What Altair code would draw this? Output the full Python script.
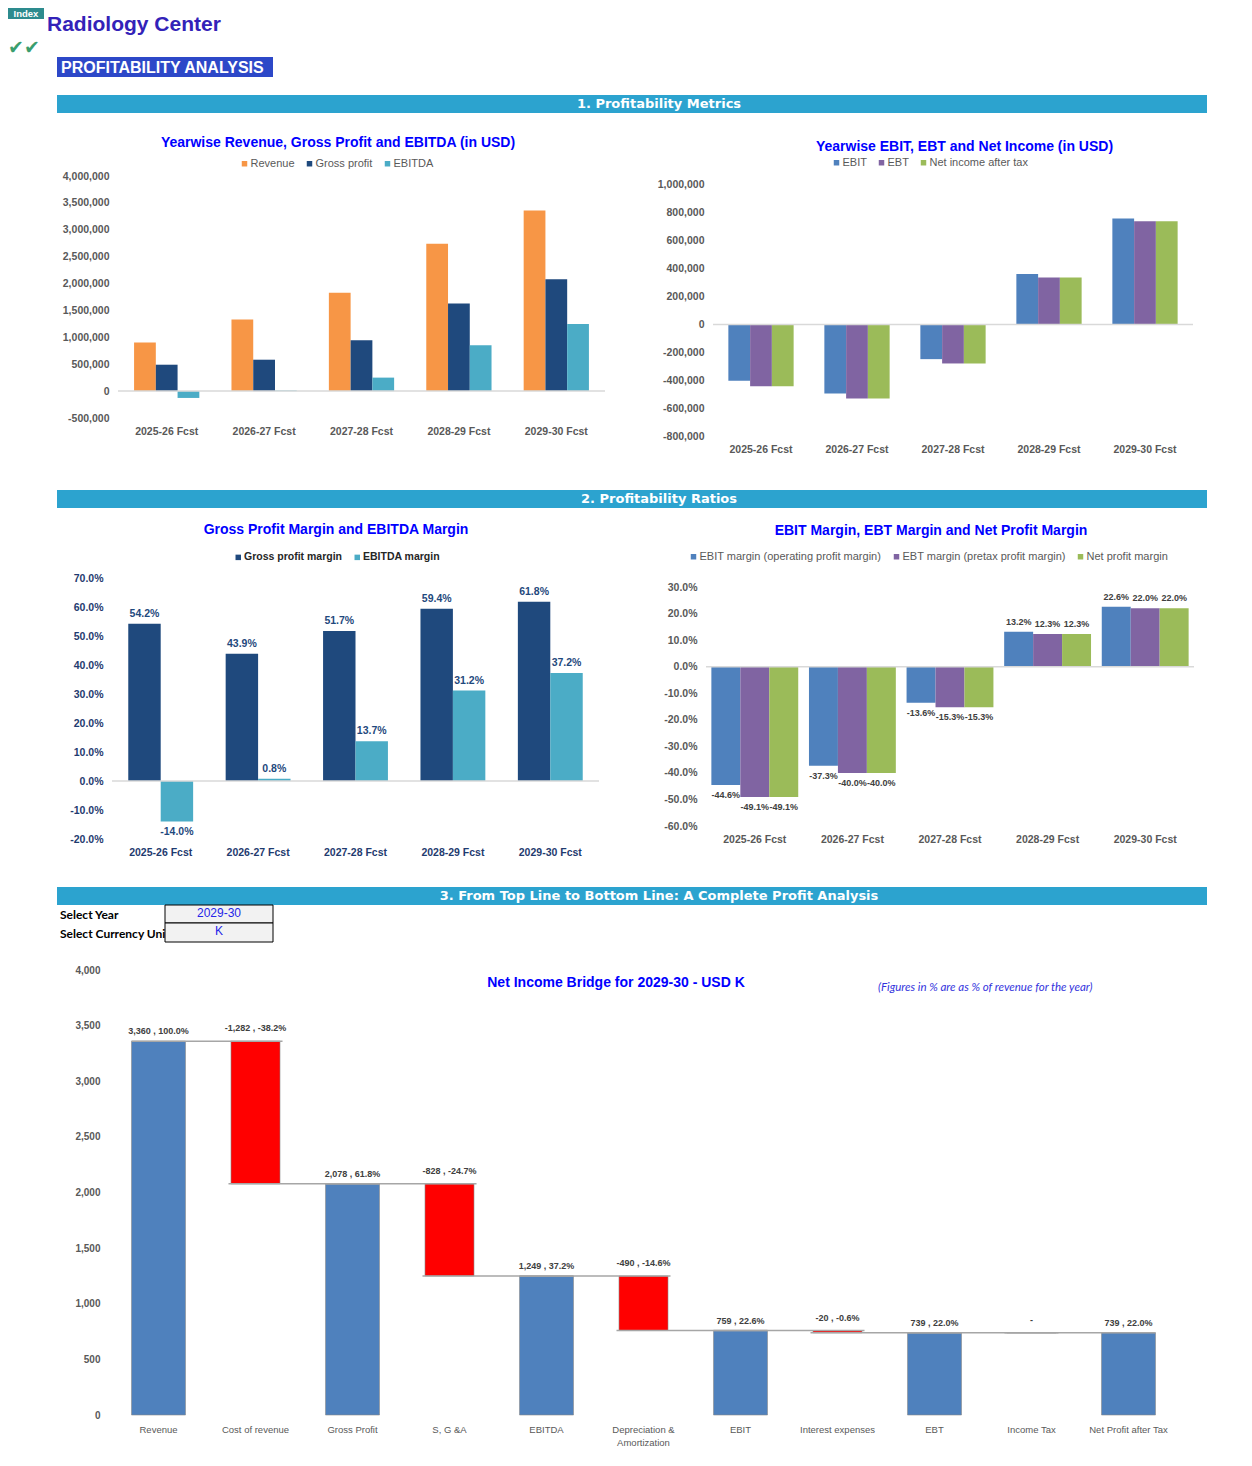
import altair as alt
import pandas as pd

FONT = "Liberation Sans"
TITLE_BLUE = "#0000FF"
SECTION = "#2CA3CF"
GRAY = "#595959"
NAVY = "#1F3B6F"

# ---------------- data ----------------
years = ["2025-26 Fcst", "2026-27 Fcst", "2027-28 Fcst", "2028-29 Fcst", "2029-30 Fcst"]

top_series = ["Revenue", "Gross profit", "EBITDA"]
revenue = [905000, 1330000, 1830000, 2740000, 3360000]
gross_profit = [491000, 584000, 946000, 1628000, 2078000]
ebitda = [-127000, 11000, 251000, 855000, 1249000]

income_series = ["EBIT", "EBT", "Net income after tax"]
ebit = [-404000, -496000, -249000, 362000, 759000]
ebt = [-444000, -532000, -280000, 337000, 739000]
net_income = [-444000, -532000, -280000, 337000, 739000]

margin1_series = ["Gross profit margin", "EBITDA margin"]
gp_margin = [54.2, 43.9, 51.7, 59.4, 61.8]
ebitda_margin = [-14.0, 0.8, 13.7, 31.2, 37.2]

margin2_series = ["EBIT margin (operating profit margin)", "EBT margin (pretax profit margin)", "Net profit margin"]
ebit_margin = [-44.6, -37.3, -13.6, 13.2, 22.6]
ebt_margin = [-49.1, -40.0, -15.3, 12.3, 22.0]
net_margin = [-49.1, -40.0, -15.3, 12.3, 22.0]

rev_ticks = [-500000, 0, 500000, 1000000, 1500000, 2000000, 2500000, 3000000, 3500000, 4000000]
inc_ticks = [-800000, -600000, -400000, -200000, 0, 200000, 400000, 600000, 800000, 1000000]
m1_ticks = [-20, -10, 0, 10, 20, 30, 40, 50, 60, 70]
m2_ticks = [-60, -50, -40, -30, -20, -10, 0, 10, 20, 30]

selected_year = "2029-30"
currency_unit = "K"
bridge_items = ["Revenue", "Cost of revenue", "Gross Profit", "S, G &A", "EBITDA",
                "Depreciation & Amortization", "EBIT", "Interest expenses", "EBT",
                "Income Tax", "Net Profit after Tax"]
bridge_kind = ["total", "delta", "total", "delta", "total", "delta", "total", "delta",
               "total", "delta", "total"]
bridge_values = [3360, -1282, 2078, -828, 1249, -490, 759, -20, 739, 0, 739]
bridge_pct = [100.0, -38.2, 61.8, -24.7, 37.2, -14.6, 22.6, -0.6, 22.0, 0.0, 22.0]
bridge_ticks = [0, 500, 1000, 1500, 2000, 2500, 3000, 3500, 4000]

one = pd.DataFrame({"k": [0]})


# ---------------- helpers ----------------
def frame(x1, x2, y1, y2):
    return alt.Chart(one).mark_rect(fill="white", opacity=0).encode(
        x=alt.value(x1), x2=alt.value(x2), y=alt.value(y1), y2=alt.value(y2))


def spacer():
    return frame(0, 1, 0, 1).properties(width=1, height=1)


def txt(text, x, y, size, color, weight="normal", align="left", font=FONT, italic=False):
    kw = dict(align=align, baseline="middle", fontSize=size, fontWeight=weight, color=color, font=font)
    if italic:
        kw["fontStyle"] = "italic"
    return alt.Chart(pd.DataFrame({"t": [text]})).mark_text(**kw).encode(
        x=alt.value(x), y=alt.value(y), text="t:N")


def box(x1, x2, y1, y2, fill, stroke=None):
    kw = dict(fill=fill)
    if stroke:
        kw.update(stroke=stroke, strokeWidth=1)
    return alt.Chart(one).mark_rect(**kw).encode(
        x=alt.value(x1), x2=alt.value(x2), y=alt.value(y1), y2=alt.value(y2))


def axis(**kw):
    base = dict(title=None, grid=False, domain=False, ticks=False, labelFont=FONT, labelOverlap=False)
    base.update(kw)
    return alt.Axis(**base)


def grouped(series, value_lists, colors, width, height, ydomain, yticks, pad_inner,
            tick_color, yfmt, legend_pos, legend_style, title, title_pos, fbox,
            label_style=None):
    df = pd.DataFrame({
        "year": [yr for _ in series for yr in years],
        "series": [s for s in series for _ in years],
        "value": [v for vals in value_lists for v in vals],
    })
    x = alt.X("year:N", sort=years,
              scale=alt.Scale(domain=years, paddingInner=pad_inner, paddingOuter=pad_inner / 2),
              axis=axis(labelAngle=0, labelPadding=8, labelFontSize=10.5,
                        labelFontWeight="bold", labelColor=tick_color))
    yax = dict(values=yticks, labelPadding=9, labelFontSize=10.5,
               labelFontWeight="bold", labelColor=tick_color)
    yax.update(yfmt)
    y = alt.Y("value:Q", scale=alt.Scale(domain=ydomain, nice=False, zero=False), axis=axis(**yax))
    xo = alt.XOffset("series:N", sort=series, scale=alt.Scale(domain=series))
    leg = dict(title=None, orient="none", direction="horizontal",
               legendX=legend_pos[0], legendY=legend_pos[1],
               symbolType="square", symbolSize=30, symbolStrokeWidth=0,
               labelOffset=0.5, columnPadding=9, padding=0, labelLimit=400, labelFont=FONT)
    leg.update(legend_style)
    color = alt.Color("series:N", sort=series,
                      scale=alt.Scale(domain=series, range=colors), legend=alt.Legend(**leg))
    base = alt.Chart(df)
    zero_df = pd.DataFrame({"value": [0]})
    layers = [
        frame(*fbox),
        base.mark_bar().encode(x=x, xOffset=xo, y=y, color=color),
        alt.Chart(zero_df).mark_rule(color="#D9D9D9", strokeWidth=1.5).encode(y=y),
    ]
    if label_style:
        lab = base.transform_calculate(lbl="format(datum.value, '.1f') + '%'")
        off = label_style["off"]
        for cond, dy in (("datum.value >= 0", -off), ("datum.value < 0", off)):
            layers.append(
                lab.transform_filter(cond).mark_text(
                    dy=dy, baseline="middle", fontSize=label_style["size"], fontWeight="bold",
                    color=label_style["color"], font=FONT
                ).encode(x=x, xOffset=xo, y=y, text="lbl:N"))
    layers.append(txt(title, title_pos[0], title_pos[1], 14, TITLE_BLUE, "bold", "center"))
    return alt.layer(*layers).properties(width=width, height=height)


pct_fmt = {"labelExpr": "format(datum.value, '.1f') + '%'"}
num_fmt = {"format": ",d"}

# ---------------- header rows ----------------
header1 = alt.layer(
    frame(0, 1236, 0, 112),
    box(0, 36, 0, 11, "#2D8B8E"),
    txt("Index", 18, 5.5, 9.5, "white", "bold", "center"),
    txt("Radiology Center", 39, 17, 21, "#3322B8", "bold"),
    txt("✔✔", 0, 40, 19, "#3A9E6E", font="DejaVu Sans"),
    box(49, 265, 49, 69, "#2D48C8"),
    txt("PROFITABILITY ANALYSIS", 53, 59.5, 16, "white", "bold"),
    box(49, 1199, 87, 105, SECTION),
    txt("1. Profitability Metrics", 651, 96, 13, "white", "bold", "center", font="DejaVu Sans"),
).properties(width=1236, height=112)

header2 = alt.layer(
    frame(0, 1236, 0, 45),
    box(49, 1199, 20, 38, SECTION),
    txt("2. Profitability Ratios", 651, 29, 13, "white", "bold", "center", font="DejaVu Sans"),
).properties(width=1236, height=45)

header3 = alt.layer(
    frame(0, 1236, 0, 95),
    box(49, 1199, 22, 40, SECTION),
    txt("3. From Top Line to Bottom Line: A Complete Profit Analysis", 651, 31, 13, "white",
        "bold", "center", font="DejaVu Sans"),
    txt("Select Year", 52, 50, 12, "black", "bold", font="Lato"),
    txt("Select Currency Unit", 52, 69, 12, "black", "bold", font="Lato"),
    box(157, 265, 40, 58, "#F2F2F2", "black"),
    box(157, 265, 58, 77, "#F2F2F2", "black"),
    txt(selected_year, 211, 48, 12, "#2525E8", align="center"),
    txt(currency_unit, 211, 66, 12, "#2525E8", align="center"),
).properties(width=1236, height=95)

# ---------------- charts ----------------
chart1 = grouped(
    top_series, [revenue, gross_profit, ebitda], ["#F79646", "#1F497D", "#4BACC6"],
    487, 242, [-500000, 4000000], rev_ticks, 0.33, GRAY, num_fmt,
    (121, -18), dict(labelFontSize=11, labelColor=GRAY),
    "Yearwise Revenue, Gross Profit and EBITDA (in USD)", (220, -33),
    (-109, 537, -56, 294))

chart2 = grouped(
    income_series, [ebit, ebt, net_income], ["#4F81BD", "#8064A2", "#9BBB59"],
    480, 260, [-800000, 1064000], inc_ticks, 0.32, GRAY, num_fmt,
    (118, -19), dict(labelFontSize=11, labelColor=GRAY),
    "Yearwise EBIT, EBT and Net Income (in USD)", (251.5, -29),
    (-58, 531, -56, 294))

chart3 = grouped(
    margin1_series, [gp_margin, ebitda_margin], ["#1F497D", "#4BACC6"],
    487, 261, [-20, 70], m1_ticks, 0.334, NAVY, pct_fmt,
    (121, -26), dict(labelFontSize=10.5, labelFontWeight="bold", labelColor="#262626"),
    "Gross Profit Margin and  EBITDA Margin", (224, -48),
    (-103, 538, -63, 287),
    label_style=dict(off=10, size=10.5, color="#1F497D"))

chart4 = grouped(
    margin2_series, [ebit_margin, ebt_margin, net_margin], ["#4F81BD", "#8064A2", "#9BBB59"],
    488, 248, [-60, 33.4], m2_ticks, 0.11, GRAY, pct_fmt,
    (-18, -27), dict(labelFontSize=11, labelColor=GRAY),
    "EBIT Margin, EBT Margin and Net Profit Margin", (225, -47),
    (-56, 538, -63, 287),
    label_style=dict(off=10, size=9, color="#404040"))

# ---------------- waterfall ----------------
starts, ends, tops, labels = [], [], [], []
level = 0
for kind, v, p in zip(bridge_kind, bridge_values, bridge_pct):
    if kind == "total":
        s, e = 0, v
    else:
        s, e = level, level + v
    starts.append(s)
    ends.append(e)
    tops.append(max(s, e))
    labels.append("-" if v == 0 else f"{v:,.0f} , {p:.1f}%")
    level = e

wf = pd.DataFrame({"item": bridge_items, "kind": bridge_kind, "start": starts,
                   "end": ends, "top": tops, "label": labels})
conn = pd.DataFrame({"item": bridge_items[:-1], "next": bridge_items[1:], "level": ends[:-1]})

wscale = alt.Scale(domain=bridge_items, paddingInner=0.443, paddingOuter=0.2215)
waxis = axis(labelAngle=0, labelPadding=9, labelFontSize=9.5, labelColor=GRAY, labelLineHeight=13,
             labelExpr="datum.label == 'Depreciation & Amortization' ? ['Depreciation &', 'Amortization'] : datum.label")


def wx(field="item", **kw):
    return alt.X(field, type="nominal", sort=bridge_items, scale=wscale, axis=waxis, **kw)


def wy(field):
    return alt.Y(field, type="quantitative", scale=alt.Scale(domain=[0, 4000], nice=False),
                 axis=axis(values=bridge_ticks, format=",d", labelPadding=10, labelFontSize=10,
                           labelFontWeight="bold", labelColor=GRAY))


wbase = alt.Chart(wf)
w_tot = wbase.transform_filter("datum.kind == 'total'").mark_bar(
    fill="#4F81BD", stroke="#8C8C8C", strokeWidth=0.6).encode(x=wx(), y=wy("start"), y2="end:Q")
w_dlt = wbase.transform_filter("datum.kind == 'delta'").mark_bar(
    fill="#FF0000", stroke="#8C8C8C", strokeWidth=0.6,
    width=alt.RelativeBandSize(0.907)).encode(x=wx(), y=wy("start"), y2="end:Q")
w_rule = alt.Chart(conn).mark_rule(color="#A6A6A6", strokeWidth=1.5).encode(
    x=wx(bandPosition=0), x2=alt.X2("next", bandPosition=1), y=wy("level"))
w_lt = wbase.transform_filter("datum.kind == 'total'").mark_text(
    dy=-10, baseline="middle", fontSize=9, fontWeight="bold", color="#404040", font=FONT
).encode(x=wx(), y=wy("top"), text="label:N")
w_ld = wbase.transform_filter("datum.kind == 'delta'").mark_text(
    dy=-13, baseline="middle", fontSize=9, fontWeight="bold", color="#404040", font=FONT
).encode(x=wx(), y=wy("top"), text="label:N")

waterfall = alt.layer(
    frame(-101, 1134, -10, 490),
    w_tot, w_dlt, w_rule, w_lt, w_ld,
    txt(f"Net Income Bridge for {selected_year} - USD {currency_unit}", 506, 13, 14, TITLE_BLUE,
        "bold", "center"),
    txt("(Figures in % are as % of revenue for the year)", 768, 18, 11.5, "#3333DD",
        font="Lato", italic=True),
).properties(width=1067, height=445)


def res(c):
    return c.resolve_scale(color="independent", xOffset="independent").resolve_legend(color="independent")


row1 = res(alt.hconcat(spacer(), chart1, chart2, spacing=0))
row2 = res(alt.hconcat(spacer(), chart3, chart4, spacing=0))
row3 = res(alt.hconcat(spacer(), waterfall, spacing=0))

chart = res(alt.vconcat(header1, row1, header2, row2, header3, row3, spacing=0)).properties(
    padding=0, background="white"
).configure(
    font=FONT,
    view=alt.ViewConfig(strokeWidth=0),
    locale={"number": {"decimal": ".", "thousands": ",", "grouping": [3],
                       "currency": ["$", ""], "minus": "-"}},
)

chart.save("out.html", embed_options={"renderer": "svg", "actions": False})
